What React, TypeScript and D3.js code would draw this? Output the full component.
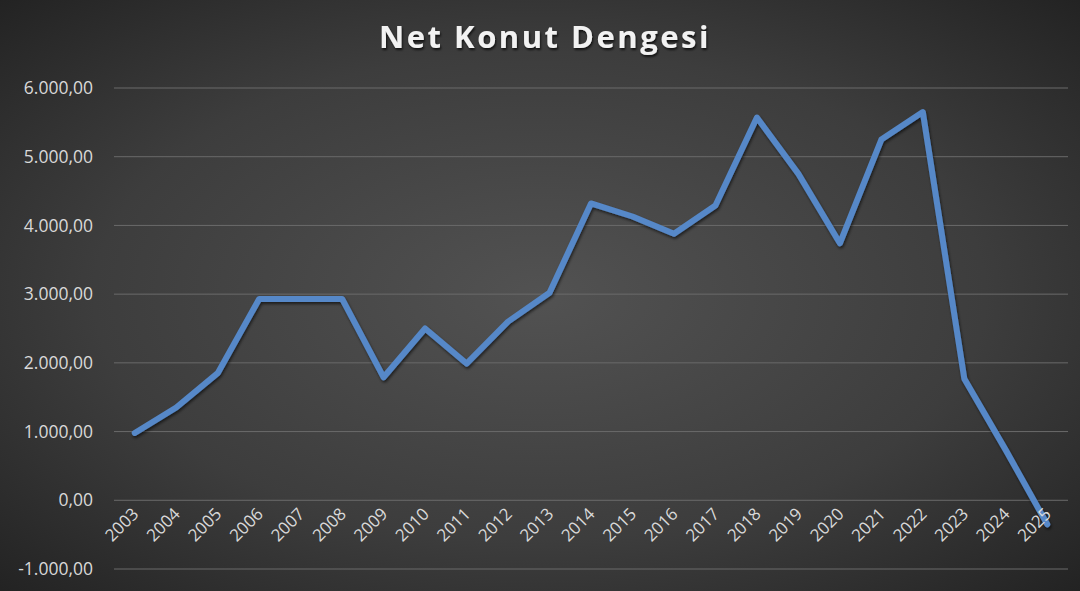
import React from "react";
import * as d3 from "d3";

const years = ["2003","2004","2005","2006","2007","2008","2009","2010","2011","2012","2013","2014","2015","2016","2017","2018","2019","2020","2021","2022","2023","2024","2025"];
const values = [980,1350,1850,2930,2930,2930,1790,2500,1990,2600,3020,4320,4130,3880,4290,5570,4750,3740,5250,5650,1770,730,-350];
const yTicks = [-1000,0,1000,2000,3000,4000,5000,6000];
const title = "Net Konut Dengesi";

const W = 1080, H = 591;
const plotLeft = 114, plotRight = 1068, plotTop = 88, plotBottom = 569;

const fmt = (v: number) => {
  const s = Math.abs(v).toFixed(2).split(".");
  const int = s[0].replace(/\B(?=(\d{3})+(?!\d))/g, ".");
  return (v < 0 ? "-" : "") + int + "," + s[1];
};

export default function App() {
  const x = d3.scaleBand<string>().domain(years).range([plotLeft, plotRight]);
  const y = d3.scaleLinear().domain([-1000, 6000]).range([plotBottom, plotTop]);
  const line = d3.line<number>()
    .x((_, i) => (x(years[i]) as number) + x.bandwidth() / 2)
    .y((d) => y(d));
  const path = line(values) || "";
  return (
    <svg width={W} height={H} style={{ position: "absolute", left: 0, top: 0 }}>
      <defs>
        <radialGradient id="bg" cx="50%" cy="50%" r="75%">
          <stop offset="0%" stopColor="#525252" />
          <stop offset="55%" stopColor="#3d3d3d" />
          <stop offset="100%" stopColor="#1f1f1f" />
        </radialGradient>
        <filter id="sh" x="-5%" y="-5%" width="110%" height="110%">
          <feDropShadow dx="1" dy="2" stdDeviation="1.5" floodColor="#000" floodOpacity="0.6" />
        </filter>
        <filter id="tsh" x="-5%" y="-20%" width="110%" height="150%">
          <feDropShadow dx="1" dy="2" stdDeviation="1.2" floodColor="#000" floodOpacity="0.7" />
        </filter>
      </defs>
      <rect x={0} y={0} width={W} height={H} fill="url(#bg)" />
      {yTicks.map((t) => (
        <g key={t}>
          <line x1={plotLeft} x2={plotRight} y1={y(t)} y2={y(t)} stroke="#6a6a6a" strokeWidth={1} />
          <text x={93} y={y(t)} dy="0.35em" textAnchor="end" fill="#d9d9d9"
            fontFamily="'Open Sans', sans-serif" fontSize={17.5}>{fmt(t)}</text>
        </g>
      ))}
      <path d={path} fill="none" stroke="#5688c8" strokeWidth={6} strokeLinejoin="round" strokeLinecap="round" filter="url(#sh)" />
      {years.map((yr) => {
        const cx = (x(yr) as number) + x.bandwidth() / 2 + 5;
        const cy = 515;
        return (
          <text key={yr} x={cx} y={cy} textAnchor="end" fill="#d9d9d9"
            fontFamily="'Open Sans', sans-serif" fontSize={17}
            transform={`rotate(-45 ${cx} ${cy})`}>{yr}</text>
        );
      })}
      <text x={545} y={48} textAnchor="middle" fill="#f2f2f2" fontFamily="'Open Sans', sans-serif"
        fontWeight="bold" fontSize={31} letterSpacing={2.5} filter="url(#tsh)">{title}</text>
    </svg>
  );
}
